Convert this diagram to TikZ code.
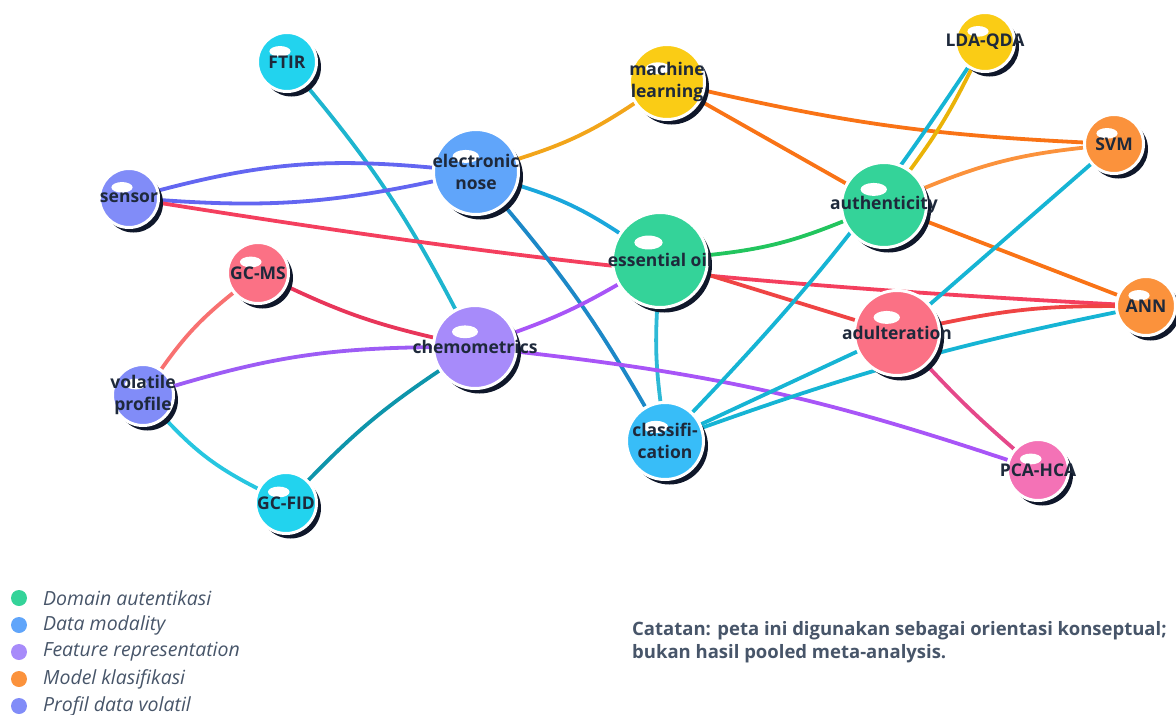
\documentclass[tikz,border=0pt]{standalone}
\usepackage{fontspec}
\setmainfont{Open Sans}
\usetikzlibrary{shadows}
\pgfdeclarelayer{edges}
\pgfsetlayers{edges,main}

\definecolor{ink}{HTML}{1E293B}
\definecolor{shade}{HTML}{0F172A}
\definecolor{notegray}{HTML}{475569}
% node fills
\definecolor{fcyan}{HTML}{22D3EE}
\definecolor{findigo}{HTML}{818CF8}
\definecolor{fblue}{HTML}{60A5FA}
\definecolor{fyellow}{HTML}{FACC15}
\definecolor{forange}{HTML}{FB923C}
\definecolor{fgreen}{HTML}{34D399}
\definecolor{frose}{HTML}{FB7185}
\definecolor{fviolet}{HTML}{A78BFA}
\definecolor{fsky}{HTML}{38BDF8}
\definecolor{fpink}{HTML}{F472B6}
% connector colours
\definecolor{lteal}{HTML}{1EB5CF}
\definecolor{lindigo}{HTML}{6366F1}
\definecolor{lrose}{HTML}{F43F5E}
\definecolor{lamber}{HTML}{F2A51A}
\definecolor{lsky}{HTML}{1AA7DC}
\definecolor{ldeep}{HTML}{1C88C7}
\definecolor{laqua}{HTML}{2DB9D6}
\definecolor{lpurple}{HTML}{A855F7}
\definecolor{lviolet}{HTML}{9D5CF5}
\definecolor{lgreen}{HTML}{22C55E}
\definecolor{lred}{HTML}{EF4444}
\definecolor{ldark}{HTML}{0E95AB}
\definecolor{llight}{HTML}{27C6E0}
\definecolor{lsalmon}{HTML}{F87171}
\definecolor{lcrimson}{HTML}{E8365A}
\definecolor{lorange}{HTML}{F97316}
\definecolor{lpeach}{HTML}{FB923C}
\definecolor{lgold}{HTML}{EAB308}
\definecolor{lcyan}{HTML}{16B4D4}
\definecolor{lpink}{HTML}{E5488A}

\tikzset{
    ball/.style = {
        circle, draw=white, line width=3pt, inner sep=0pt, minimum size={2*#1pt+3pt},
        drop shadow={shadow xshift=4.5pt, shadow yshift=-5pt, fill=shade, opacity=1},
        path picture={
            \fill[white] ([shift={(-0.25*#1pt,0.38*#1pt)}]path picture bounding box.center)
                ellipse [x radius={0.2*#1pt+5pt}, y radius={0.09*#1pt+2.8pt}];
        }
    },
    txt/.style = {
        font=\bfseries\fontsize{17.5}{22.5}\selectfont, text=ink, align=center, inner sep=0pt
    },
    link/.style = {line width=3.8pt, draw=#1},
    keydot/.style = {circle, fill=#1, minimum size=16pt, inner sep=0pt},
    keytext/.style = {font=\itshape\fontsize{19.5}{22}\selectfont, text=notegray, anchor=west, inner sep=0pt}
}

\begin{document}
\begin{tikzpicture}[x=1pt, y=-1pt]
    \useasboundingbox (0,0) rectangle (1176,715);

    % Place the nodes
    \node[ball=28, fill=fcyan,   label={[txt]center:FTIR}] (ftir) at (287,62) {};
    \node[ball=28, fill=findigo, label={[txt]center:sensor}] (sensor) at (129,198) {};
    \node[ball=41, fill=fblue,   label={[txt]center:electronic\\nose}] (enose) at (476,172) {};
    \node[ball=36, fill=fyellow, label={[txt]center:machine\\learning}] (ml) at (667,82) {};
    \node[ball=28, fill=fyellow, label={[txt]center:LDA-QDA}] (lda) at (985,42) {};
    \node[ball=28, fill=forange, label={[txt]center:SVM}] (svm) at (1114,144) {};
    \node[ball=41, fill=fgreen,  label={[txt]center:authenticity}] (auth) at (884,205) {};
    \node[ball=46, fill=fgreen,  label={[txt]center:essential oil}] (eo) at (660,260) {};
    \node[ball=29, fill=frose,   label={[txt]center:GC-MS}] (gcms) at (258,273) {};
    \node[ball=40, fill=fviolet, label={[txt]center:chemometrics}] (chemo) at (475,347) {};
    \node[ball=28, fill=forange, label={[txt]center:ANN}] (ann) at (1146,306) {};
    \node[ball=41, fill=frose,   label={[txt]center:adulteration}] (adult) at (897,333) {};
    \node[ball=29, fill=findigo, label={[txt]center:volatile\\profile}] (vp) at (143,395) {};
    \node[ball=37, fill=fsky,    label={[txt]center:classifi-\\cation}] (class) at (665,441) {};
    \node[ball=29, fill=fpink,   label={[txt]center:PCA-HCA}] (pca) at (1038,470) {};
    \node[ball=29, fill=fcyan,   label={[txt]center:GC-FID}] (gcfid) at (286,503) {};

    % Connectors, behind the nodes
    \begin{pgfonlayer}{edges}
        \draw[link=lteal] (ftir) to[bend left=6] (chemo);
        \draw[link=lindigo] (sensor) to[bend left=10] (enose);
        \draw[link=lindigo] (sensor) to[bend right=8] (enose);
        \draw[link=lrose] (sensor) to[bend right=3] (ann);
        \draw[link=lamber] (enose) to[bend right=8] (ml);
        \draw[link=lsky] (enose) to[bend left=8] (eo);
        \draw[link=ldeep] (enose) to[bend left=5] (class);
        \draw[link=laqua] (eo) to[bend right=5] (class);
        \draw[link=lpurple] (eo) to[bend left=5] (chemo);
        \draw[link=lgreen] (eo) to[bend right=8] (auth);
        \draw[link=lred] (eo) to (adult);
        \draw[link=lviolet] (chemo) to[bend right=8] (vp);
        \draw[link=lpurple] (chemo) to[bend left=6] (pca);
        \draw[link=ldark] (chemo) to[bend right=6] (gcfid);
        \draw[link=llight] (vp) to[bend right=10] (gcfid);
        \draw[link=lsalmon] (gcms) to[bend right=8] (vp);
        \draw[link=lcrimson] (gcms) to[bend right=6] (chemo);
        \draw[link=lorange] (ml) to[bend right=5] (svm);
        \draw[link=lorange] (ml) to (auth);
        \draw[link=lpeach] (auth) to[bend left=8] (svm);
        \draw[link=lorange] (auth) to (ann);
        \draw[link=lgold] (auth) to[bend right=5] (lda);
        \draw[link=lcyan] (class) to[bend right=5] (lda);
        \draw[link=lcyan] (class) to (adult);
        \draw[link=lcyan] (class) to[bend left=4] (ann);
        \draw[link=lcyan] (adult) to (svm);
        \draw[link=lred] (adult) to[bend left=6] (ann);
        \draw[link=lpink] (adult) to[bend right=3] (pca);
    \end{pgfonlayer}

    % Legend
    \foreach \c/\t [count=\i from 0] in {fgreen/Domain autentikasi, fblue/Data modality,
        fviolet/Feature representation, forange/Model klasifikasi, findigo/Profil data volatil}{
        \node[keydot=\c] (dot\i) at (19,598+27*\i) {};
        \node[keytext] (key\i) at (43,598+27*\i) {\t};
    }

    % Note
    \node[font=\bfseries\fontsize{18.5}{23}\selectfont, text=notegray, align=left, anchor=west, inner sep=0pt]
        (note) at (632,642) {Catatan: peta ini digunakan sebagai orientasi konseptual;\\bukan hasil pooled meta-analysis.};
\end{tikzpicture}
\end{document}
